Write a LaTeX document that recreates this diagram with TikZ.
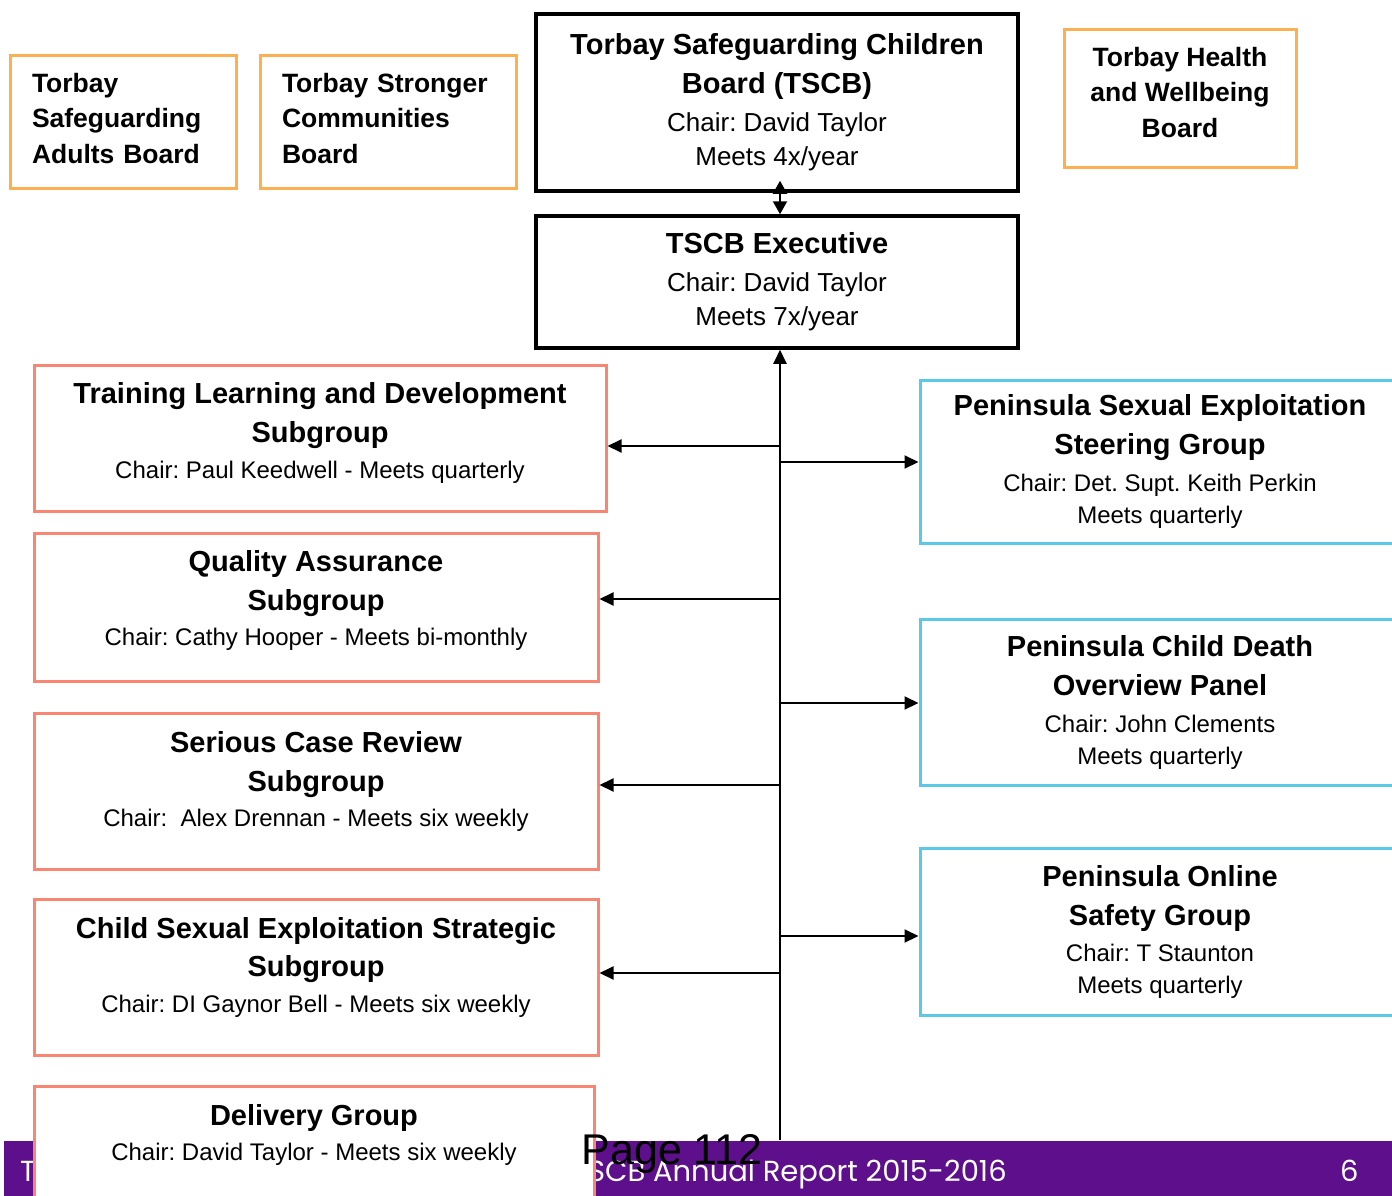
\documentclass[tikz,border=0pt]{standalone}
\usepackage{fontspec}
\setmainfont{Liberation Sans}
\newfontfamily\footfont{Poppins}
\usetikzlibrary{arrows.meta}
\definecolor{boardorange}{RGB}{252,176,82}
\definecolor{subsalmon}{RGB}{248,134,114}
\definecolor{peninblue}{RGB}{90,200,230}
\definecolor{footpurple}{RGB}{94,15,139}
\newcommand{\grptitle}[1]{{\bfseries\fontsize{29}{39}\selectfont #1}}

\begin{document}
\frenchspacing
\begin{tikzpicture}[x=1pt,y=-1pt]
    \tikzstyle{boardbox}=[rectangle,draw=boardorange,line width=3pt,fill=white,anchor=north,inner xsep=22pt,inner ysep=17pt,align=left,font=\bfseries\fontsize{26.5}{35.5}\selectfont]
    \tikzstyle{tscbbox}=[rectangle,draw,line width=3.5pt,fill=white,minimum width=482pt,align=center,font=\fontsize{26}{34}\selectfont]
    \tikzstyle{subbox}=[rectangle,draw=subsalmon,line width=3pt,fill=white,anchor=north,align=center,font=\fontsize{24}{34}\selectfont]
    \tikzstyle{peninbox}=[rectangle,draw=peninblue,line width=3pt,fill=white,minimum width=480pt,align=center,font=\fontsize{24}{32}\selectfont]
    \tikzstyle{link}=[line width=2pt,-{Triangle[length=14pt,width=13pt]}]
    \tikzstyle{footer}=[text=white,inner sep=0pt,anchor=base west,font=\footfont\fontsize{29}{29}\selectfont]

    \useasboundingbox (0,0) rectangle (1392,1196);
    \clip (0,0) rectangle (1392,1196);

    % footer bar
    \fill[footpurple] (4,1141) rectangle (1400,1205);
    \node[footer] (foott) at (20,1181) {T};
    \node[footer] (footreport) at (588,1181) {SCB Annual Report 2015-2016};
    \node[footer] (footpage) at (1340,1181) {6};

    % boards
    \node[boardbox,text width=182pt,text depth=79.5pt] (sab) at (123,54.5) {Torbay\\Safeguarding\\Adults Board};
    \node[boardbox,text width=212pt,text depth=79.5pt] (ssc) at (388,54.5) {Torbay Stronger\\Communities\\Board};
    \node[boardbox,align=center,minimum width=232pt,inner xsep=4pt,text depth=13.5pt] (hwb) at (1180,28.5) {Torbay Health\\and Wellbeing\\Board};
    \node[tscbbox,minimum height=177pt] (tscb) at (777,102.5) {\grptitle{Torbay Safeguarding Children}\\[5pt]\grptitle{Board (TSCB)}\\[4pt]Chair: David Taylor\\Meets 4x/year};
    \node[tscbbox,minimum height=132pt] (exec) at (777,282) {\grptitle{TSCB Executive}\\[4pt]Chair: David Taylor\\Meets 7x/year};

    % subgroups
    \node[subbox,minimum width=572pt,inner ysep=17pt,text depth=16pt] (tld) at (320,363.5) {\grptitle{Training Learning and Development}\\[5pt]\grptitle{Subgroup}\\[2pt]Chair: Paul Keedwell - Meets quarterly};
    \node[subbox,minimum width=564pt,inner ysep=17pt,text depth=19pt] (qa) at (316,531.5) {\grptitle{Quality Assurance}\\[5pt]\grptitle{Subgroup}\\[1pt]Chair: Cathy Hooper - Meets bi-monthly};
    \node[subbox,minimum width=564pt,inner ysep=18pt,text depth=25pt] (scr) at (316,711.5) {\grptitle{Serious Case Review}\\[5pt]\grptitle{Subgroup}\\[1pt]Chair:~ Alex Drennan - Meets six weekly};
    \node[subbox,minimum width=564pt,inner ysep=18pt,text depth=25pt] (cse) at (316,897.5) {\grptitle{Child Sexual Exploitation Strategic}\\[4pt]\grptitle{Subgroup}\\[2pt]Chair: DI Gaynor Bell - Meets six weekly};
    \node[subbox,minimum width=560pt,inner ysep=18pt,text depth=100pt] (del) at (314,1084.5) {\grptitle{Delivery Group}\\[1pt]Chair: David Taylor - Meets six weekly};

    % peninsula groups
    \node[peninbox,minimum height=163pt] (pse) at (1160,461.5) {\grptitle{Peninsula Sexual Exploitation}\\[7pt]\grptitle{Steering Group}\\[5pt]Chair: Det. Supt. Keith Perkin\\Meets quarterly};
    \node[peninbox,minimum height=166pt] (cdop) at (1160,702) {\grptitle{Peninsula Child Death}\\[7pt]\grptitle{Overview Panel}\\[5pt]Chair: John Clements\\Meets quarterly};
    \node[peninbox,minimum height=167pt] (online) at (1160,931.5) {\grptitle{Peninsula Online}\\[7pt]\grptitle{Safety Group}\\[4pt]Chair: T Staunton\\Meets quarterly};

    % connectors
    \coordinate (trunk) at (780,1140);
    \draw[link] (trunk) -- (trunk |- exec.south);
    \draw[line width=2pt,{Triangle[length=13pt,width=14pt]}-{Triangle[length=13pt,width=14pt]},shorten <=-12pt] (tscb.south -| trunk) -- (exec.north -| trunk);
    \foreach \grp/\ypos in {tld/446,qa/599,scr/785,cse/973} {
      \coordinate (in) at (\grp.east |- 0,\ypos);
      \draw[link] (trunk |- in) -- (in);
    }
    \foreach \grp/\ypos in {pse/462,cdop/703,online/936} {
      \coordinate (in) at (\grp.west |- 0,\ypos);
      \draw[link] (trunk |- in) -- (in);
    }

    \node[font=\fontsize{43}{43}\selectfont,inner sep=0pt,anchor=base] (pagemark) at (672,1164) {Page 112};
\end{tikzpicture}
\end{document}
